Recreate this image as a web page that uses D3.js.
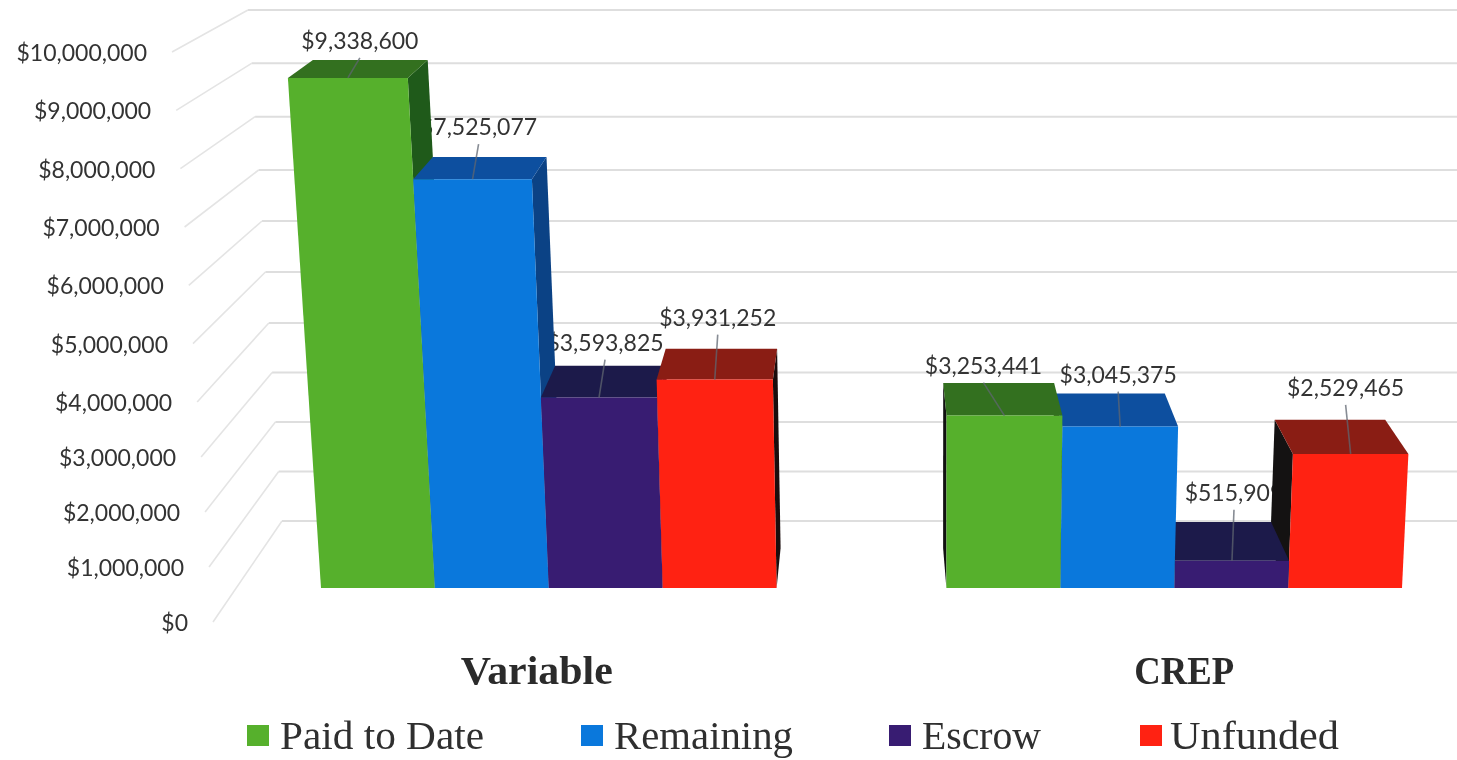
<!DOCTYPE html>
<html><head><meta charset="utf-8">
<script src="https://d3js.org/d3.v7.min.js"></script>
<style>
html,body{margin:0;padding:0;background:#fff}
svg{display:block;filter:blur(0.45px)}
.tick-label,.data-label{font-family:Lato,"Open Sans",sans-serif;fill:#333}
.cat-label{font-family:"Liberation Serif",serif;font-weight:700;fill:#2b2b2b}
.legend-label{font-family:"Liberation Serif",serif;fill:#2f2f2f}
</style></head><body>
<svg id="chart" width="1457" height="760"></svg>
<script>
// ---- data ----
const categories = ["Variable", "CREP"];
const seriesNames = ["Paid to Date", "Remaining", "Escrow", "Unfunded"];
const paidToDate = [9338600, 3253441];
const remaining = [7525077, 3045375];
const escrow = [3593825, 515909];
const unfunded = [3931252, 2529465];
const axisTicks = [0,1e6,2e6,3e6,4e6,5e6,6e6,7e6,8e6,9e6,1e7];

// ---- styles ----
const frontColors = ["#56b02c","#0a78dc","#381c72","#ff2212"];
const topColors = ["#33701f","#0d4f9f","#1c1a4a","#8a1d14"];
const sideColors = {Variable:["#1f5a1a","#0b4285","#1a1440","#1a0d0d"],CREP:["#111","#111","#111","#141212"]};
const labelOffsets = [[[12,-38],[6,-53],[6,-56],[3,-63]],[[-21,-51],[-2,-53],[2,-69],[-5,-67]]];
const legendSwatchX = [247,581,889,1140];
const legendTextWidths = [204,179,119,169];
const catCenterShift = [-12,10];
const catTextWidths = [152,100];

const valuesBySeries = [paidToDate, remaining, escrow, unfunded];
const svg = d3.select("#chart");

// ---- scales (perspective projection of the chart box) ----
const yFront = d3.scaleLinear().domain([0,4e6,1e7]).range([588,376,41]);
const yWallFront = d3.scaleLinear().domain([0,4e6,1e7]).range([622,402,52]);
const yWallBack = d3.scaleLinear().domain([0,4e6,7e6,1e7]).range([521,323,170,10]);
const xGroup = d3.scaleBand().domain(categories).range([321,1402]).paddingInner(0.2716);
const xSeries = d3.scaleBand().domain(seriesNames).range([0,xGroup.bandwidth()]);
const lean = (x0,y) => x0 - (945-x0)*1.04e-4*(588-y);
const depth = ([x,y]) => [x+(870-x)*0.043, y+(-340-y)*0.043];
const wallFrontX = y => 213-(622-y)*0.0719;
const wallBackX = y => 282-(521-y)*0.0665;
const poly = pts => pts.map(p=>p.map(n=>n.toFixed(1)).join(",")).join(" ");

// ---- gridlines ----
const grid = svg.append("g").attr("fill","none");
grid.selectAll("path.side").data(axisTicks).join("path").attr("class","side")
  .attr("stroke","#e4e4e4").attr("stroke-width",1.6)
  .attr("d",v=>{
    const yb=yWallBack(v), yf=yWallFront(v);
    return d3.line()([[wallFrontX(yf),yf],[wallBackX(yb),yb]]);
  });
grid.selectAll("path.back").data(axisTicks).join("path").attr("class","back")
  .attr("stroke","#dedede").attr("stroke-width",2)
  .attr("d",v=>{
    const yb=yWallBack(v);
    return d3.line()([[wallBackX(yb),yb],[1457,yb]]);
  });

// ---- tick labels ----
const money = d3.format("$,");
svg.append("g").selectAll("text").data(axisTicks).join("text")
  .attr("class","tick-label").attr("font-size",23).attr("text-anchor","end")
  .attr("x",v=>wallFrontX(yWallFront(v))-25).attr("y",v=>yWallFront(v)+9).text(v=>money(v));

// ---- bar records ----
const bars = [];
categories.forEach((c,ci)=>seriesNames.forEach((s,si)=>{
  const v=valuesBySeries[si][ci];
  const x0=xGroup(c)+xSeries(s), x1=x0+xSeries.bandwidth(), yt=yFront(v), yb=yFront(0);
  const fl=[lean(x0,yt),yt], fr=[lean(x1,yt),yt], bl0=[x0,yb], br0=[x1,yb];
  bars.push({c,ci,si,v,fl,fr,bl0,br0});
}));

// data labels sit behind the bars, as in the reference
const labelPos = b => { const o=labelOffsets[b.ci][b.si]; return [(b.fl[0]+b.fr[0])/2+o[0], b.fl[1]+o[1]]; };
svg.append("g").selectAll("text").data(bars).join("text")
  .attr("class","data-label").attr("font-size",23).attr("text-anchor","middle")
  .attr("x",b=>labelPos(b)[0]).attr("y",b=>labelPos(b)[1]+9).text(b=>money(b.v));

// ---- bars ----
const order = bars.slice().sort((a,b)=>Math.abs(b.bl0[0]-870)-Math.abs(a.bl0[0]-870));
const gb = svg.append("g").selectAll("g").data(order).join("g");
gb.append("polygon").attr("fill",b=>sideColors[b.c][b.si]).attr("points",b=>{
  return b.ci===0 ? poly([b.fr,depth(b.fr),depth(b.br0),b.br0]) : poly([b.fl,depth(b.fl),depth(b.bl0),b.bl0]);
});
gb.append("polygon").attr("fill",b=>topColors[b.si]).attr("points",b=>poly([b.fl,b.fr,depth(b.fr),depth(b.fl)]));
gb.append("polygon").attr("fill",b=>frontColors[b.si]).attr("points",b=>poly([b.bl0,b.br0,b.fr,b.fl]));

// ---- leader lines ----
svg.append("g").selectAll("path").data(bars).join("path")
  .attr("fill","none").attr("stroke","#5f6670").attr("stroke-opacity",0.75).attr("stroke-width",1.6)
  .attr("d",b=>{const p=labelPos(b);return d3.line()([[p[0],p[1]+18],[(b.fl[0]+b.fr[0])/2,b.fl[1]]]);});

// ---- category labels ----
svg.append("g").selectAll("text").data(categories).join("text")
  .attr("class","cat-label").attr("font-size",39).attr("text-anchor","middle")
  .attr("textLength",(c,i)=>catTextWidths[i]).attr("lengthAdjust","spacingAndGlyphs")
  .attr("x",(c,i)=>xGroup(c)+xGroup.bandwidth()/2+catCenterShift[i]).attr("y",684).text(c=>c);

// ---- legend ----
const lg = svg.append("g").selectAll("g").data(seriesNames).join("g")
  .attr("transform",(d,i)=>`translate(${legendSwatchX[i]},0)`);
lg.append("rect").attr("x",0).attr("y",725).attr("width",22).attr("height",21).attr("fill",(d,i)=>frontColors[i]);
lg.append("text").attr("class","legend-label").attr("font-size",40).attr("x",(d,i)=>i===3?30:33).attr("y",749)
  .attr("textLength",(d,i)=>legendTextWidths[i]).attr("lengthAdjust","spacingAndGlyphs").text(d=>d);
</script>
</body></html>
